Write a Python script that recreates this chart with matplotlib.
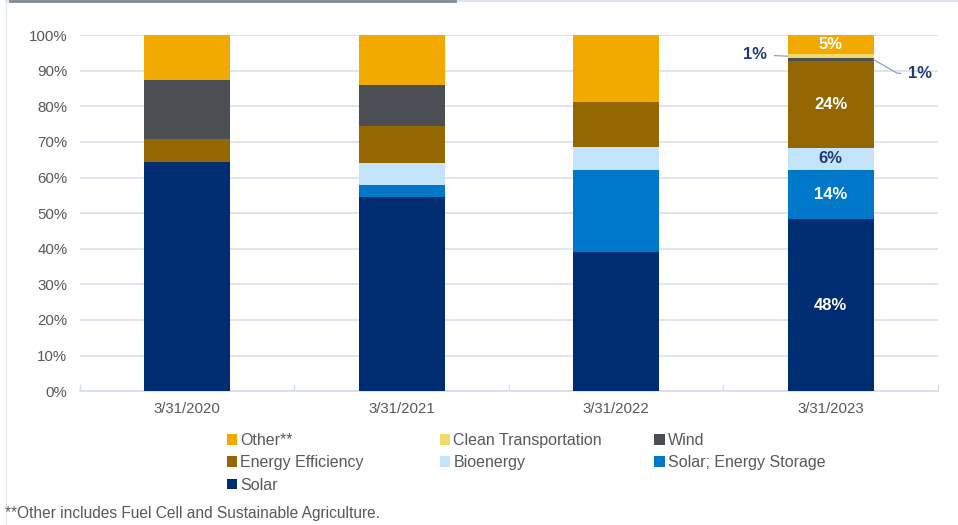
import numpy as np
import matplotlib.pyplot as plt
from matplotlib.patches import Patch
from matplotlib.lines import Line2D

plt.rcParams['font.family'] = ['Liberation Sans', 'DejaVu Sans']

dates = ['3/31/2020', '3/31/2021', '3/31/2022', '3/31/2023']
series = ['Solar', 'Solar; Energy Storage', 'Bioenergy', 'Energy Efficiency',
          'Wind', 'Clean Transportation', 'Other**']
solar = [64.3, 54.4, 39.0, 48.3]
solar_storage = [0.0, 3.5, 23.1, 13.8]
bioenergy = [0.0, 6.1, 6.4, 6.3]
energy_eff = [6.6, 10.4, 12.8, 24.4]
wind = [16.5, 11.6, 0.0, 0.7]
clean_transport = [0.0, 0.0, 0.0, 1.2]
other = [12.6, 14.0, 18.7, 5.3]
labels_2023 = ['48%', '14%', '6%', '24%', '1%', '1%', '5%']

colors = ['#002D72', '#0077C8', '#C4E4FB', '#946700', '#4B4F54', '#F2D96B', '#F2A900']
values = [solar, solar_storage, bioenergy, energy_eff, wind, clean_transport, other]

fig = plt.figure(figsize=(9.58, 5.25), dpi=100)
ax = fig.add_axes([0.0835, 0.255, 0.8955, 0.678])

x = np.arange(len(dates))
bottom = np.zeros(len(dates))
bars = []
for vals, c, name in zip(values, colors, series):
    b = ax.bar(x, vals, 0.4, bottom=bottom, color=c, label=name, zorder=3)
    bars.append(b)
    bottom += np.array(vals)

# data labels on last bar
navy = '#1F3A73'
label_colors = ['white', 'white', navy, 'white', None, None, 'white']
for i, (b, col) in enumerate(zip(bars, label_colors)):
    if col is None:
        continue
    r = b[3]
    ax.text(r.get_x() + r.get_width() / 2, r.get_y() + r.get_height() / 2, labels_2023[i],
            ha='center', va='center', color=col, fontsize=12, fontweight='bold', zorder=4)

# leader-line labels for the tiny segments
r_ct = bars[5][3]
y_ct = r_ct.get_y() + r_ct.get_height() / 2
ax.annotate(labels_2023[5], xy=(r_ct.get_x(), y_ct), xytext=(2.705, 94.5),
            ha='right', va='center', color=navy, fontsize=12, fontweight='bold',
            arrowprops=dict(arrowstyle='-', color='#8DA2C0', lw=0.9, shrinkA=3, shrinkB=0))
r_w = bars[4][3]
y_w = r_w.get_y() + r_w.get_height() / 2
ax.annotate(labels_2023[4], xy=(r_w.get_x() + r_w.get_width(), y_w), xytext=(3.36, 89.3),
            ha='left', va='center', color=navy, fontsize=12, fontweight='bold',
            arrowprops=dict(arrowstyle='-', color='#8DA2C0', lw=0.9,
                            connectionstyle='angle,angleA=0,angleB=-30,rad=0', shrinkA=3, shrinkB=0))

ax.set_ylim(0, 100)
ax.set_xlim(-0.5, len(dates) - 0.5)
ax.set_yticks(np.arange(0, 101, 10))
ax.set_yticklabels([f'{v}%' for v in range(0, 101, 10)])
ax.set_xticks(x)
ax.set_xticklabels(dates)
ax.set_xticks(np.arange(-0.5, len(dates)), minor=True)
ax.tick_params(axis='y', length=0, labelsize=10.8, labelcolor='#595959', pad=9)
ax.tick_params(axis='x', which='major', length=0, labelsize=10.8, labelcolor='#595959', pad=8)
ax.tick_params(axis='x', which='minor', length=5, direction='in', color='#D6DEEB', width=1)
ax.grid(axis='y', color='#D9E1EE', lw=1.2, zorder=0)
for s in ['top', 'right', 'left']:
    ax.spines[s].set_visible(False)
ax.spines['bottom'].set_color('#D6DEEB')
ax.spines['bottom'].set_linewidth(1.2)

# legend, three columns laid out like the original
cols = [(0.2365, ['Other**', 'Energy Efficiency', 'Solar']),
        (0.4590, ['Clean Transportation', 'Bioenergy']),
        (0.6830, ['Wind', 'Solar; Energy Storage'])]
cmap = dict(zip(series, colors))
for xpos, names in cols:
    handles = [Patch(facecolor=cmap[n], label=n) for n in names]
    leg = fig.legend(handles=handles, loc='upper left', bbox_to_anchor=(xpos, 0.175),
                     frameon=False, fontsize=11.5, handlelength=0.65, handleheight=0.65,
                     handletextpad=0.2, labelspacing=0.45, borderaxespad=0, borderpad=0)
    for t in leg.get_texts():
        t.set_color('#595959')

fig.text(0.005, 0.022, '**Other includes Fuel Cell and Sustainable Agriculture.',
         fontsize=11.2, color='#595959', ha='left', va='center')

# frame bits at top/left
fig.add_artist(Line2D([0.006, 1.0], [0.998, 0.998], color='#DCE3EE', lw=1.5))
fig.add_artist(Line2D([0.010, 0.475], [0.998, 0.998], color='#7F8893', lw=2))
fig.add_artist(Line2D([0.006, 0.006], [0.0, 0.998], color='#E3E8EF', lw=1))

fig.savefig('out.png', dpi=100)
